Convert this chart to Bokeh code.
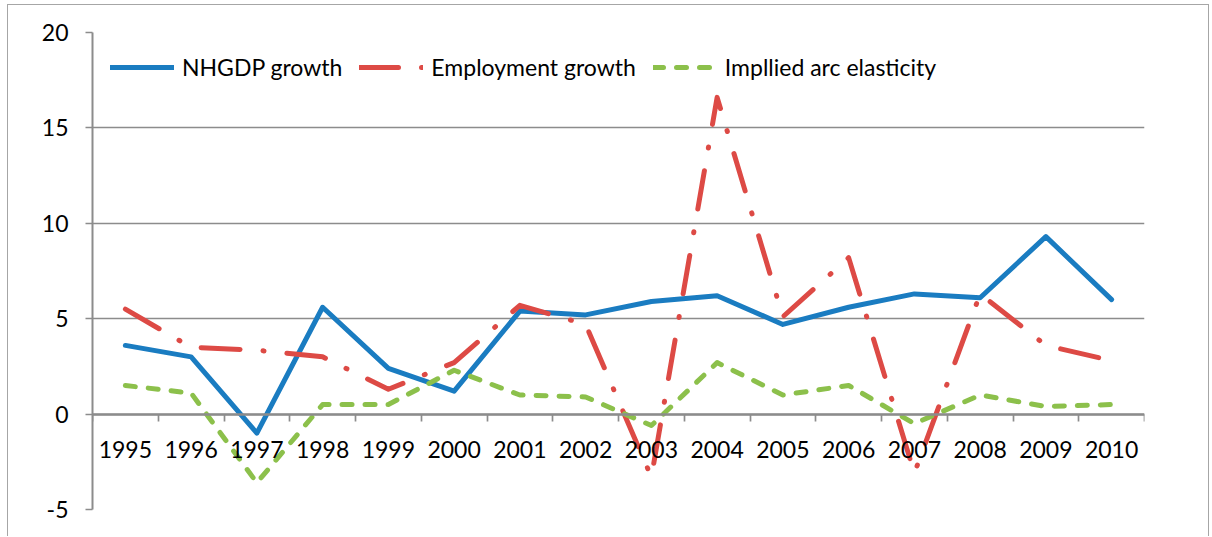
from bokeh.plotting import figure
from bokeh.models import (FactorRange, Range1d, LinearAxis, CategoricalAxis, FixedTicker,
                          Grid, Legend, LegendItem)
from bokeh.embed import file_html
from bokeh.resources import INLINE

# Annual growth rates, 1995-2010 (%)
years = ["1995", "1996", "1997", "1998", "1999", "2000", "2001", "2002",
         "2003", "2004", "2005", "2006", "2007", "2008", "2009", "2010"]
nhgdp_growth = [3.6, 3.0, -1.0, 5.6, 2.4, 1.2, 5.4, 5.2, 5.9, 6.2, 4.7, 5.6, 6.3, 6.1, 9.3, 6.0]
employment_growth = [5.5, 3.5, 3.35, 3.0, 1.3, 2.7, 5.7, 4.7, -3.3, 16.6, 5.1, 8.2, -3.1, 6.3, 3.6, 2.8]
arc_elasticity = [1.5, 1.1, -3.6, 0.5, 0.5, 2.3, 1.0, 0.9, -0.6, 2.7, 1.0, 1.5, -0.5, 1.0, 0.4, 0.5]
y_ticks = [-5, 0, 5, 10, 15, 20]

FONT = "Lato"
FONT_SIZE = "23px"
GRID = "#8c8c8c"

p = figure(width=1202, height=532, output_backend="svg", toolbar_location=None,
           x_range=FactorRange(factors=years, range_padding=0),
           y_range=Range1d(-5, 20),
           x_axis_location=None, y_axis_location=None,
           min_border_left=84, min_border_right=66, min_border_top=27, min_border_bottom=28)
p.outline_line_color = None
p.background_fill_color = "white"
p.border_fill_color = "white"
p.center = []  # drop the default grids; horizontal gridlines are added below
p.styles = {"margin-left": "7px", "margin-top": "4px",
            "border-left": "1px solid #a6a6a6", "border-top": "1px solid #a6a6a6",
            "border-right": "1px solid #a6a6a6"}

# value axis
yaxis = LinearAxis(ticker=FixedTicker(ticks=y_ticks))
yaxis.axis_line_color = GRID
yaxis.axis_line_width = 2
yaxis.major_tick_line_color = GRID
yaxis.major_tick_line_width = 1.7
yaxis.major_tick_out = 7
yaxis.major_tick_in = 0
yaxis.minor_tick_line_color = None
yaxis.major_label_standoff = 17
yaxis.major_label_overrides = {t: str(t) for t in y_ticks}
yaxis.major_label_text_font = FONT
yaxis.major_label_text_font_size = FONT_SIZE
yaxis.major_label_text_color = "black"
p.add_layout(yaxis, "left")

p.add_layout(Grid(dimension=1, ticker=FixedTicker(ticks=y_ticks),
                  grid_line_color=GRID, grid_line_width=1.7))

# tick marks between categories (synthetic factor coordinates 0..N), on the zero line
edge_axis = LinearAxis(ticker=FixedTicker(ticks=list(range(len(years) + 1))), fixed_location=0)
edge_axis.axis_line_color = GRID
edge_axis.axis_line_width = 2.5
edge_axis.major_tick_line_color = GRID
edge_axis.major_tick_line_width = 1.7
edge_axis.major_tick_out = 7
edge_axis.major_tick_in = 0
edge_axis.minor_tick_line_color = None
edge_axis.major_label_text_color = None
p.add_layout(edge_axis, "below")

# year labels under the zero line
cat_axis = CategoricalAxis(fixed_location=0)
cat_axis.axis_line_color = None
cat_axis.major_tick_line_color = None
cat_axis.major_tick_out = 0
cat_axis.major_tick_in = 0
cat_axis.major_label_standoff = 27
cat_axis.major_label_text_font = FONT
cat_axis.major_label_text_font_size = FONT_SIZE
cat_axis.major_label_text_color = "black"
p.add_layout(cat_axis, "below")

r_gdp = p.line(years, nhgdp_growth, line_color="#1a7cc1", line_width=5,
               line_join="round", line_cap="round")
r_emp = p.line(years, employment_growth, line_color="#dd4a45", line_width=5,
               line_join="round", line_cap="round", line_dash="39 23 1 23")
r_ela = p.line(years, arc_elasticity, line_color="#8cc04b", line_width=5,
               line_join="round", line_cap="round", line_dash="10 13")

legend = Legend(items=[LegendItem(label="NHGDP growth", renderers=[r_gdp]),
                       LegendItem(label="Employment growth", renderers=[r_emp]),
                       LegendItem(label="Impllied arc elasticity", renderers=[r_ela])],
                orientation="horizontal", location=(18, 428))
legend.glyph_width = 64
legend.glyph_height = 28
legend.label_height = 28
legend.label_standoff = 8
legend.spacing = 17
legend.padding = 0
legend.margin = 0
legend.border_line_color = None
legend.background_fill_alpha = 0
legend.label_text_font = FONT
legend.label_text_font_size = FONT_SIZE
legend.label_text_color = "black"
p.add_layout(legend)

with open("out.html", "w") as f:
    f.write(file_html(p, INLINE))
